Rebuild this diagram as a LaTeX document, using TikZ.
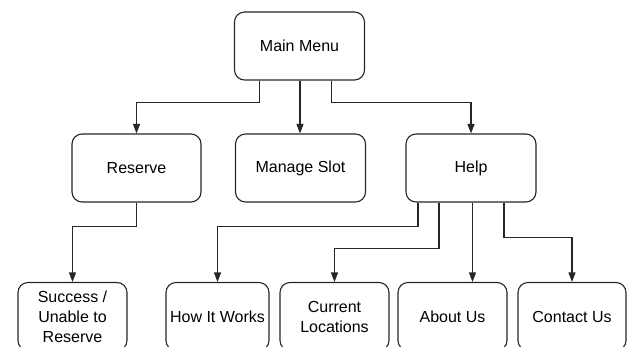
\documentclass[tikz,border=0pt]{standalone}
\usepackage{fontspec}
\setmainfont{Liberation Sans}
\usetikzlibrary{arrows.meta}
\begin{document}
\begin{tikzpicture}[x=1pt,y=-1pt,
  menubox/.style={draw=black!85,line width=1.1pt,rounded corners=10pt,inner sep=0pt,
    minimum height=68pt,align=center,font=\fontsize{16}{20}\selectfont},
  link/.style={draw=black!85,line width=1.1pt,-{Triangle[length=9.5pt,width=7pt]}}]
\useasboundingbox (0,0) rectangle (629,346);
\clip (0,0) rectangle (629,346);
% top level
\node[menubox,minimum width=130pt] (main) at (299.5,46) {Main Menu};
% second level
\node[menubox,minimum width=129pt] (reserve) at (136.5,168) {Reserve};
\node[menubox,minimum width=130pt] (manage) at (300.5,168) {Manage Slot};
\node[menubox,minimum width=130pt] (help) at (471,168) {Help};
% third level
\node[menubox,minimum width=109pt] (success) at (72.5,316.5) {Success /\\Unable to\\Reserve};
\node[menubox,minimum width=103pt] (how) at (217.5,316.5) {How It Works};
\node[menubox,minimum width=109pt] (current) at (334.5,316.5) {Current\\Locations};
\node[menubox,minimum width=109pt] (about) at (452.5,316.5) {About Us};
\node[menubox,minimum width=108pt] (contact) at (572,316.5) {Contact Us};
% connectors from the main menu
\draw[link] ([xshift=-40pt]main.south) -- ++(0,22) -| (reserve.north);
\draw[link] ([xshift=0.5pt]main.south) -- ([xshift=-0.5pt]manage.north);
\draw[link] ([xshift=32pt]main.south) -- ++(0,22) -| (help.north);
% reserve outcome
\draw[link] (reserve.south) -- ++(0,24) -| (success.north);
% help pages
\draw[link] ([xshift=-53pt]help.south) -- ++(0,24) -| (how.north);
\draw[link] ([xshift=-32pt]help.south) -- ++(0,46) -| (current.north);
\draw[link] ([xshift=1.5pt]help.south) coordinate (ha) -- (ha |- about.north);
\draw[link] ([xshift=33pt]help.south) -- ++(0,35) -| (contact.north);
\end{tikzpicture}
\end{document}
